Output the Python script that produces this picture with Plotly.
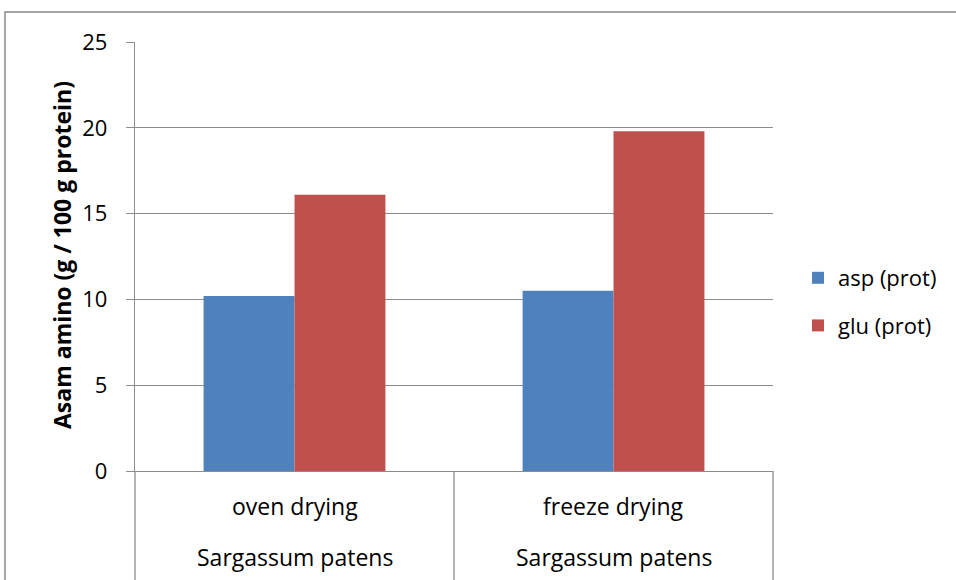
import plotly.graph_objects as go

categories = ["oven drying", "freeze drying"]
species = ["Sargassum patens", "Sargassum patens"]
asp_values = [10.2, 10.5]
glu_values = [16.1, 19.8]
series_names = ["asp (prot)", "glu (prot)"]
y_ticks = [0, 5, 10, 15, 20, 25]

FONT = "'Open Sans', Lato, sans-serif"
GRID = "#8c8c8c"

fig = go.Figure()
fig.add_trace(go.Bar(x=categories, y=asp_values, name=series_names[0],
                     marker=dict(color="#4F81BD", line=dict(width=0)),
                     legendgroup="a"))
fig.add_trace(go.Bar(x=categories, y=glu_values, name=series_names[1],
                     marker=dict(color="#C0504D", line=dict(width=0)),
                     legendgroup="b"))

ph = 471 - 42
pw = 773 - 135

for i, c in enumerate(categories):
    fig.add_annotation(x=c, xref="x", y=-(506 - 471) / ph, yref="paper",
                       text=c, showarrow=False, font=dict(family=FONT, size=23, color="black"),
                       yanchor="middle")
    fig.add_annotation(x=c, xref="x", y=-(557 - 471) / ph, yref="paper",
                       text=species[i], showarrow=False, font=dict(family=FONT, size=23, color="black"),
                       yanchor="middle")

for xp in [0, 0.5, 1]:
    fig.add_shape(type="line", xref="paper", yref="paper", x0=xp, x1=xp,
                  y0=0, y1=-(585 - 471) / ph, line=dict(color=GRID, width=1.3))

fig.add_shape(type="rect", xref="paper", yref="paper",
              x0=(5 - 135) / pw, x1=(970 - 135) / pw,
              y0=-(600 - 471) / ph, y1=(471 - 12) / ph,
              line=dict(color="#8a8a8a", width=1.5))

fig.add_annotation(x=(62 - 135) / pw, xref="paper", y=(471 - 255) / ph, yref="paper",
                   text="<b>Asam amino (g / 100 g protein)</b>", textangle=-90,
                   showarrow=False, font=dict(family=FONT, size=23, color="black"),
                   xanchor="center", yanchor="middle")

fig.update_layout(
    width=956, height=580,
    margin=dict(l=135, r=956 - 773, t=42, b=580 - 471),
    paper_bgcolor="white", plot_bgcolor="white",
    barmode="group", bargap=0.43, bargroupgap=0,
    font=dict(family=FONT, size=18, color="black"),
    xaxis=dict(showticklabels=False, showline=True, linecolor=GRID, linewidth=1.3,
               ticks="", showgrid=False, fixedrange=True),
    yaxis=dict(range=[0, 25], tickvals=y_ticks, showgrid=True, gridcolor=GRID,
               gridwidth=1.3, showline=True, linecolor=GRID, linewidth=1.3,
               ticks="outside", ticklen=8, tickcolor=GRID, tickwidth=1.3,
               tickfont=dict(family=FONT, size=22, color="black"), zeroline=False,
               ticklabelstandoff=14),
    legend=dict(x=(798 - 135) / pw, y=(471 - 302) / ph, xanchor="left", yanchor="middle",
                font=dict(family=FONT, size=22, color="black"),
                tracegroupgap=16, traceorder="grouped", bgcolor="rgba(0,0,0,0)"),
    showlegend=True,
)

fig.write_html("out.html", config={"displayModeBar": False},
               post_script="document.body.style.margin='0';document.body.style.padding='0';")
